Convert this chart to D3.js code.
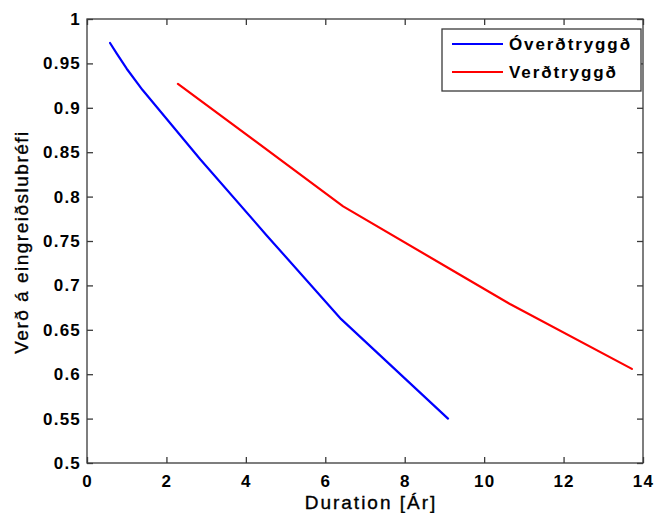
<!DOCTYPE html>
<html>
<head>
<meta charset="utf-8">
<script src="https://cdn.jsdelivr.net/npm/d3@7"></script>
<style>
  body { margin: 0; background: #fff; }
  svg { display: block; }
  text { font-family: "Liberation Sans", Arial, Helvetica, sans-serif; }
</style>
</head>
<body>
<svg id="chart" width="661" height="513"></svg>
<script>
// Data
const seriesNames = ["Óverðtryggð", "Verðtryggð"];
const seriesColors = ["#0000ff", "#ff0000"];
const unindexedX = [0.58, 0.75, 1.0, 1.4, 2.85, 4.53, 6.4, 9.09];
const unindexedY = [0.973, 0.961, 0.944, 0.920, 0.842, 0.756, 0.662, 0.550];
const indexedX = [2.29, 6.45, 9.39, 10.65, 13.72];
const indexedY = [0.927, 0.789, 0.712, 0.679, 0.606];
const xTicks = [0, 2, 4, 6, 8, 10, 12, 14];
const yTicks = [0.5, 0.55, 0.6, 0.65, 0.7, 0.75, 0.8, 0.85, 0.9, 0.95, 1];
const xLabel = "Duration [Ár]";
const yLabel = "Verð á eingreiðslubréfi";

(function () {
const svg = d3.select("#chart");
const pl = 87, pr = 643, pt = 19, pb = 463;
const x = d3.scaleLinear().domain([0, 14]).range([pl, pr]);
const y = d3.scaleLinear().domain([0.5, 1]).range([pb, pt]);
const axisColor = "#3a3a3a";

svg.append("rect").attr("x", pl).attr("y", pt)
  .attr("width", pr - pl).attr("height", pb - pt)
  .attr("fill", "none").attr("stroke", axisColor).attr("stroke-width", 1.3);

const tickLen = 6;
function styleAxis(g) {
  g.select(".domain").remove();
  g.selectAll("line").attr("stroke", axisColor).attr("stroke-width", 1.3);
  g.selectAll("text").attr("fill", "#000").style("font-size", "17px")
    .style("font-weight", "bold").style("letter-spacing", "1.2px");
}
svg.append("g").attr("transform", `translate(0,${pb})`)
  .call(d3.axisBottom(x).tickValues(xTicks).tickFormat(d3.format("d")).tickSizeInner(-tickLen).tickSizeOuter(0).tickPadding(12))
  .call(styleAxis);
svg.append("g").attr("transform", `translate(0,${pt})`)
  .call(d3.axisTop(x).tickValues(xTicks).tickFormat("").tickSizeInner(-tickLen).tickSizeOuter(0))
  .call(styleAxis);
svg.append("g").attr("transform", `translate(${pl},0)`)
  .call(d3.axisLeft(y).tickValues(yTicks).tickFormat(d => String(+d.toFixed(2))).tickSizeInner(-tickLen).tickSizeOuter(0).tickPadding(6))
  .call(styleAxis);
svg.append("g").attr("transform", `translate(${pr},0)`)
  .call(d3.axisRight(y).tickValues(yTicks).tickFormat("").tickSizeInner(-tickLen).tickSizeOuter(0))
  .call(styleAxis);

svg.append("text").attr("x", 371).attr("y", 509)
  .attr("text-anchor", "middle").style("font-size", "19px").style("letter-spacing", "2px")
  .style("stroke", "#000").style("stroke-width", 0.35)
  .text(xLabel);
svg.append("text").attr("transform", `translate(28,242) rotate(-90)`)
  .attr("text-anchor", "middle").style("font-size", "19px").style("letter-spacing", "1.5px")
  .style("stroke", "#000").style("stroke-width", 0.35)
  .text(yLabel);

const series = [
  unindexedX.map((d, i) => [d, unindexedY[i]]),
  indexedX.map((d, i) => [d, indexedY[i]])
];
const line = d3.line().x(d => x(d[0])).y(d => y(d[1]));
series.forEach((s, i) => {
  svg.append("path").datum(s).attr("d", line)
    .attr("fill", "none").attr("stroke", seriesColors[i]).attr("stroke-width", 2.2)
    .attr("stroke-linejoin", "round").attr("stroke-linecap", "round");
});

const lg = svg.append("g");
lg.append("rect").attr("x", 442).attr("y", 29).attr("width", 199).attr("height", 62)
  .attr("fill", "#fff").attr("stroke", axisColor).attr("stroke-width", 1.3);
seriesNames.forEach((name, i) => {
  const ly = 44 + i * 28;
  lg.append("line").attr("x1", 452).attr("x2", 503).attr("y1", ly).attr("y2", ly)
    .attr("stroke", seriesColors[i]).attr("stroke-width", 2.2);
  lg.append("text").attr("x", 509).attr("y", ly + 6)
    .style("font-size", "17px").style("font-weight", "bold").style("letter-spacing", "1.9px").text(name);
});
})();
</script>
</body>
</html>
